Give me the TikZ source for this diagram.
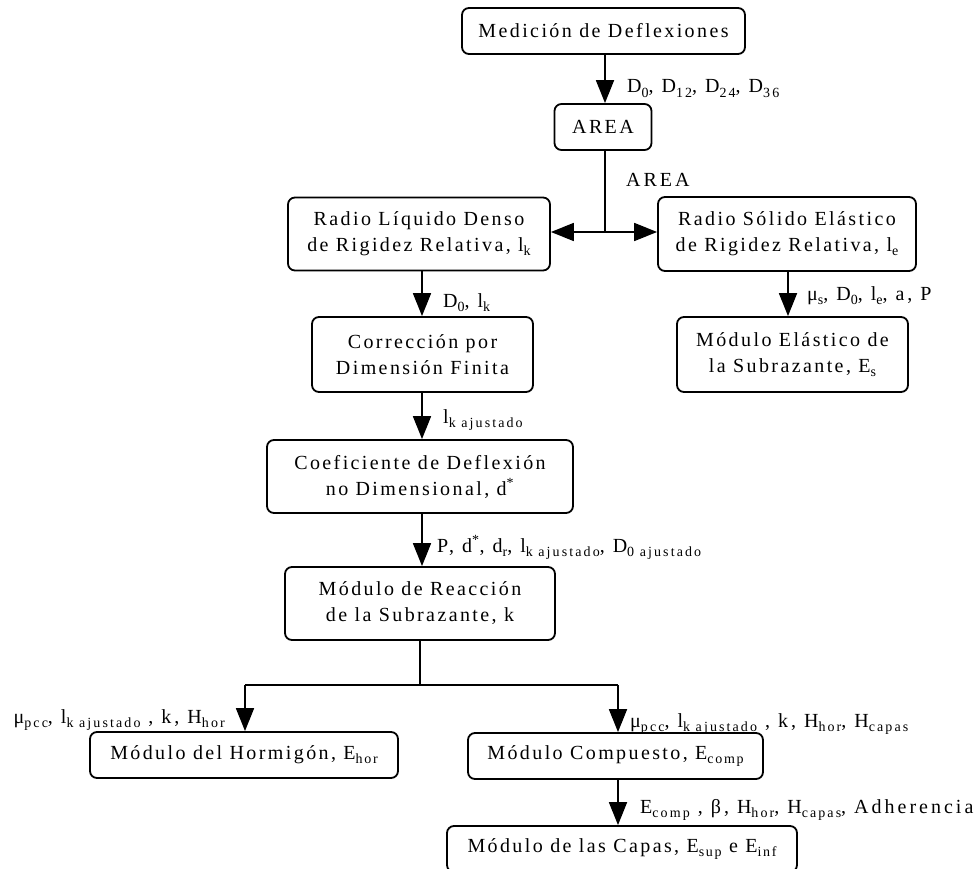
\documentclass[tikz,border=0pt]{standalone}
\usepackage{fontspec}
\setmainfont[LetterSpace=12]{Liberation Serif}
\usetikzlibrary{arrows.meta}
\newcommand{\lo}[1]{\raisebox{-0.45ex}{\fontsize{14}{14}\selectfont #1}}
\tikzset{
  box/.style={draw, line width=1.8pt, rounded corners=7pt, align=center, inner sep=0pt,
    font=\fontsize{20}{26}\selectfont},
  arr/.style={line width=1.8pt, -{Triangle[length=23pt,width=18pt]}},
  ln/.style={line width=1.8pt},
  lbl/.style={inner sep=0pt, font=\fontsize{20}{26}\selectfont\addfontfeature{LetterSpace=15}, anchor=base west},
}
\begin{document}
\begin{tikzpicture}[x=1pt,y=1pt]
\useasboundingbox[fill=white] (0,0) rectangle (977,-869);
% boxes
\node[box, minimum width=283pt, minimum height=46pt] (med) at (603.5,-31) {Medición de Deflexiones};
\node[box, minimum width=97pt, minimum height=46pt] (area) at (603,-127) {AREA};
\node[box, minimum width=262pt, minimum height=73pt] (rld) at (419,-234) {Radio Líquido Denso\\de Rigidez Relativa, l\lo{k}};
\node[box, minimum width=258pt, minimum height=74pt] (rse) at (787,-234) {Radio Sólido Elástico\\de Rigidez Relativa, l\lo{e}};
\node[box, minimum width=221pt, minimum height=75pt] (cor) at (422.5,-354.5) {Corrección por\\Dimensión Finita};
\node[box, minimum width=231pt, minimum height=75pt] (mes) at (792.5,-354.5) {Módulo Elástico de\\la Subrazante, E\lo{s}};
\node[box, minimum width=306pt, minimum height=73pt] (coef) at (420,-476.5) {Coeficiente de Deflexión\\no Dimensional, d\textsuperscript{*}};
\node[box, minimum width=270pt, minimum height=73pt] (mrs) at (420,-603.5) {Módulo de Reacción\\de la Subrazante, k};
\node[box, minimum width=308pt, minimum height=46pt] (hor) at (244,-755) {Módulo del Hormigón, E\lo{hor}};
\node[box, minimum width=295pt, minimum height=46pt] (comp) at (615.5,-756) {Módulo Compuesto, E\lo{comp}};
\node[box, minimum width=350pt, minimum height=46pt] (capas) at (622,-849) {Módulo de las Capas, E\lo{sup} e E\lo{inf}};
% coordinates
\coordinate (split) at (605,-232);
\coordinate (branch) at (420,-685);
\coordinate (bl) at (245,-685);
\coordinate (br) at (618,-685);
% connectors
\draw[arr] (605,-54) coordinate (a0) -- (a0 |- area.north);
\draw[ln] (area.south -| split) -- (split);
\draw[arr] (split) -- (rld.east |- split);
\draw[arr] (split) -- (rse.west |- split);
\draw[arr] (422,-270.5) coordinate (a1) -- (a1 |- cor.north);
\draw[arr] (788,-271) coordinate (a2) -- (a2 |- mes.north);
\draw[arr] (422,-392) coordinate (a3) -- (a3 |- coef.north);
\draw[arr] (422,-513) coordinate (a4) -- (a4 |- mrs.north);
\draw[ln] (branch |- mrs.south) -- (branch);
\draw[ln] (bl) -- (br);
\draw[arr] (bl) -- (bl |- hor.north);
\draw[arr] (br) -- (br |- comp.north);
\draw[arr] (comp.south -| br) -- (br |- capas.north);
% labels
\node[lbl] (l1) at (627,-93) {D\lo{0}, D\lo{12}, D\lo{24}, D\lo{36}};
\node[lbl] (l2) at (626,-187) {AREA};
\node[lbl] (l3) at (443,-307) {D\lo{0}, l\lo{k}};
\node[lbl] (l4) at (807,-300) {μ\lo{s}, D\lo{0}, l\lo{e}, a, P};
\node[lbl] (l5) at (443,-423) {l\lo{k ajustado}};
\node[lbl] (l6) at (437,-552) {P, d\textsuperscript{*}, d\lo{r}, l\lo{k ajustado}, D\lo{0 ajustado}};
\node[lbl, anchor=base east] (l7) at (225,-723) {μ\lo{pcc}, l\lo{k ajustado} , k, H\lo{hor}};
\node[lbl] (l8) at (630,-727) {μ\lo{pcc}, l\lo{k ajustado} , k, H\lo{hor}, H\lo{capas}};
\node[lbl] (l9) at (640,-813) {E\lo{comp} , β, H\lo{hor}, H\lo{capas}, Adherencia};
\end{tikzpicture}
\end{document}
